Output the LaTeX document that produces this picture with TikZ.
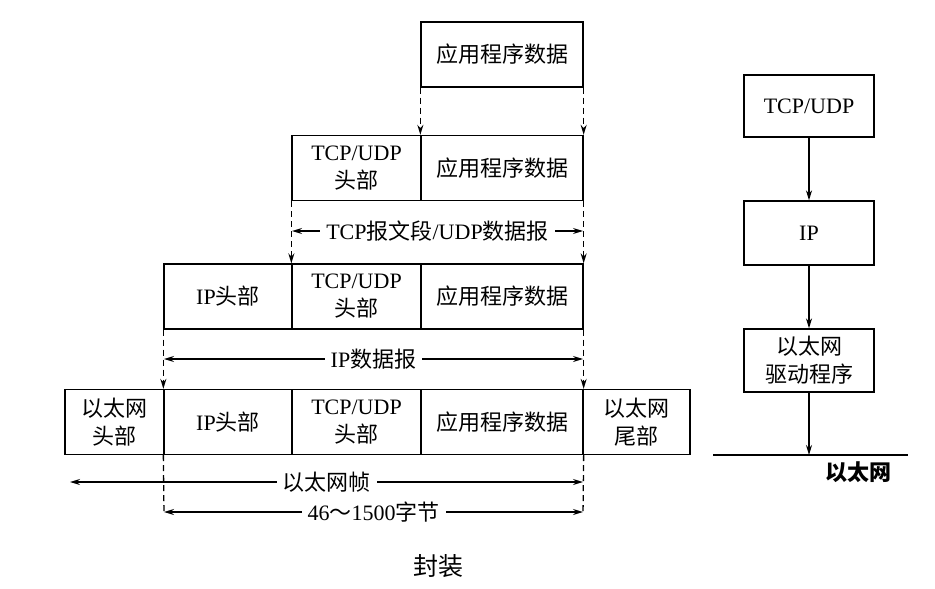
\documentclass[tikz,border=0pt]{standalone}
\usepackage{fontspec}
\setmainfont{Liberation Serif}
\newfontfamily\cjkfont{Noto Sans CJK SC}
\newcommand{\zh}[1]{{\cjkfont #1}}
\usetikzlibrary{arrows.meta}

\begin{document}
\begin{tikzpicture}[x=0.5pt, y=-0.5pt, >={Stealth[length=5pt, width=3pt]},
  every node/.style={font=\fontsize{11}{14}\selectfont},
  cell/.style={draw, line width=0.65pt, minimum height=32.5pt, inner sep=0pt, align=center},
  link/.style={line width=0.65pt, dash pattern=on 3pt off 2pt},
  span/.style={line width=0.65pt, <->},
  lab/.style={fill=white, inner xsep=3pt, inner ysep=1pt}]
  \useasboundingbox (0,0) rectangle (935,588);

  % application data
  \node[cell, minimum width=81pt] (app) at (502,54.5) {\zh{应用程序数据}};

  % TCP segment / UDP datagram
  \node[cell, minimum width=64.5pt] (tH) at (356.5,168) {TCP/UDP\\\zh{头部}};
  \node[cell, minimum width=81pt]   (tA) at (502,168)   {\zh{应用程序数据}};

  % IP datagram
  \node[cell, minimum width=64pt]   (iH) at (228,296.5)   {IP\zh{头部}};
  \node[cell, minimum width=64.5pt] (iT) at (356.5,296.5) {TCP/UDP\\\zh{头部}};
  \node[cell, minimum width=81pt]   (iA) at (502,296.5)   {\zh{应用程序数据}};

  % Ethernet frame
  \node[cell, minimum width=49.5pt] (eH) at (114.5,422) {\zh{以太网}\\\zh{头部}};
  \node[cell, minimum width=64pt]   (eI) at (228,422)   {IP\zh{头部}};
  \node[cell, minimum width=64.5pt] (eT) at (356.5,422) {TCP/UDP\\\zh{头部}};
  \node[cell, minimum width=81pt]   (eA) at (502,422)   {\zh{应用程序数据}};
  \node[cell, minimum width=53.5pt] (eF) at (636.5,422) {\zh{以太网}\\\zh{尾部}};

  \draw[link, ->] (app.south west) -- (tA.north west);
  \draw[link, ->] (app.south east) -- (tA.north east);
  \draw[link, ->] (tH.south west) -- (iT.north west);
  \draw[link, ->] (tA.south east) -- (iA.north east);
  \draw[link, ->] (iH.south west) -- (eI.north west);
  \draw[link, ->] (iA.south east) -- (eA.north east);
  \coordinate (bl) at (164,515);
  \coordinate (br) at (583,515);
  \draw[link] (eI.south west) -- (bl);
  \draw[link] (eA.south east) -- (br);

  % lengths
  \coordinate (s1l) at (292,231);
  \coordinate (s1r) at (583,231);
  \coordinate (s2l) at (164,359);
  \coordinate (s2r) at (583,359);
  \coordinate (s3l) at (70,482);
  \coordinate (s3r) at (583,482);
  \coordinate (s4l) at (164,512);
  \coordinate (s4r) at (583,512);
  \draw[span] (s1l) -- node[lab] {TCP\zh{报文段}/UDP\zh{数据报}} (s1r);
  \draw[span] (s2l) -- node[lab] {IP\zh{数据报}} (s2r);
  \draw[span] (s3l) -- node[lab] {\zh{以太网帧}} (s3r);
  \draw[span] (s4l) -- node[lab] {46\zh{～}1500\zh{字节}} (s4r);

  % protocol stack
  \node[cell, minimum width=65pt, minimum height=31pt] (up)  at (809,106)   {TCP/UDP};
  \node[cell, minimum width=65pt, minimum height=32pt] (ip)  at (809,233)   {IP};
  \node[cell, minimum width=65pt, minimum height=31.5pt] (drv) at (809,360.5) {\zh{以太网}\\\zh{驱动程序}};
  \coordinate (wire) at (809,455);
  \coordinate (wl) at (713,455);
  \coordinate (wr) at (908,455);
  \draw[line width=0.65pt, ->] (up) -- (ip);
  \draw[line width=0.65pt, ->] (ip) -- (drv);
  \draw[line width=0.65pt, ->] (drv) -- (wire);
  \draw[line width=0.65pt] (wl) -- (wr);
  \node (eth) at (858,472) {\bfseries\zh{以太网}};

  \node[font=\fontsize{12.5}{15}\selectfont] (cap) at (438,566) {\zh{封装}};
\end{tikzpicture}
\end{document}
